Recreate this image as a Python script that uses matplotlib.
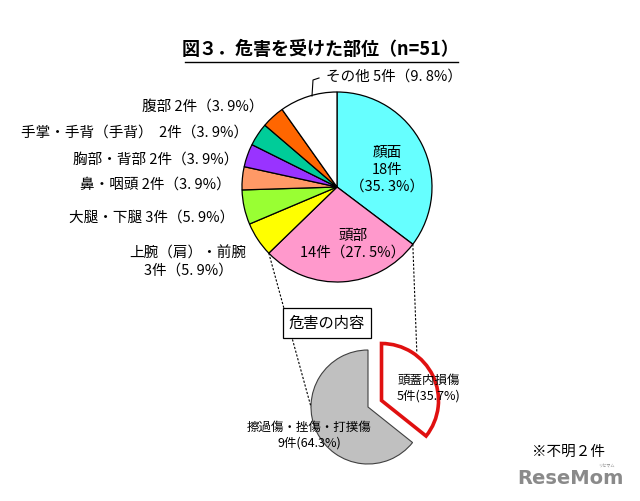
import matplotlib
matplotlib.use('Agg')
import matplotlib.pyplot as plt
import numpy as np

plt.rcParams['font.family'] = ['Noto Sans CJK JP', 'DejaVu Sans']

# 危害を受けた部位 (n=51), clockwise from the top
parts = ['顔面', '頭部', '上腕（肩）・前腕', '大腿・下腿', '鼻・咽頭',
         '胸部・背部', '手掌・手背（手背）', '腹部', 'その他']
counts = [18, 14, 3, 3, 2, 2, 2, 2, 5]
pcts = [35.3, 27.5, 5.9, 5.9, 3.9, 3.9, 3.9, 3.9, 9.8]
part_colors = ['#66ffff', '#ff99cc', '#ffff00', '#99ff33', '#ff9966',
               '#9933ff', '#00cc99', '#ff6600', '#ffffff']

# 危害の内容 (頭部 14件の内訳)
kinds = ['擦過傷・挫傷・打撲傷', '頭蓋内損傷']
kind_counts = [9, 5]
kind_pcts = [64.3, 35.7]

H = 501
fig = plt.figure(figsize=(6.4, 5.01), dpi=100)
ax = fig.add_axes([0, 0, 1, 1])

# top pie
c1 = (337, H - 187)
r1 = 95
ax.pie(counts, colors=part_colors, startangle=90, counterclock=False,
       center=c1, radius=r1, frame=True,
       wedgeprops=dict(edgecolor='black', linewidth=0.9))

# bottom pie, the 頭蓋内損傷 slice pulled out (explode is in data units here)
c2 = (368, H - 407)
r2 = 57
w2, _ = ax.pie(kind_counts, colors=['#c0c0c0', 'white'], startangle=90,
               counterclock=True, center=c2, radius=r2, frame=True,
               explode=[0, 15],
               wedgeprops=dict(edgecolor='#404040', linewidth=0.8))
w2[1].set_edgecolor('#e01010')
w2[1].set_linewidth(2.6)

ax.set_xlim(0, 640)
ax.set_ylim(0, H)
ax.set_aspect('auto')
ax.axis('off')

fs = 10.5

def pct(v):
    return ('%.1f' % v).replace('.', '. ')

# labels inside the big slices
ax.text(387, H - 170, '%s\n%d件\n（%s%%）' % (parts[0], counts[0], pct(pcts[0])),
        ha='center', va='center', fontsize=fs, linespacing=1.25)
ax.text(353, H - 244, '%s\n%d件（%s%%）' % (parts[1], counts[1], pct(pcts[1])),
        ha='center', va='center', fontsize=fs, linespacing=1.25)

# labels outside the small slices
outside = {
    2: (188, 262, 'center'),
    3: (234, 218, 'right'),
    4: (231, 185, 'right'),
    5: (238, 160, 'right'),
    6: (248, 133, 'right'),
    7: (264, 107, 'right'),
}
for i, (x, y, ha) in outside.items():
    if i == 2:
        s = '%s\n%d件（%s%%）' % (parts[i], counts[i], pct(pcts[i]))
    elif i == 6:
        s = '%s  %d件（%s%%）' % (parts[i], counts[i], pct(pcts[i]))
    else:
        s = '%s %d件（%s%%）' % (parts[i], counts[i], pct(pcts[i]))
    ax.text(x, H - y, s, ha=ha, va='center', fontsize=fs, linespacing=1.25)

ax.text(326, H - 77, '%s %d件（%s%%）' % (parts[8], counts[8], pct(pcts[8])),
        ha='left', va='center', fontsize=fs)
ax.plot([312, 313, 319], [H - 96, H - 80, H - 78], color='black', lw=0.8)

# title with underline
ax.text(321, H - 49, '図３．危害を受けた部位（n=51）', ha='center', va='center',
        fontsize=13, fontweight='bold')
ax.plot([185, 458], [H - 62, H - 62], color='black', lw=1)

# dotted connectors from 頭部 to the breakdown pie
tot = sum(counts)
a_left = np.radians(90 - 360 * (counts[0] + counts[1]) / tot)
a_right = np.radians(90 - 360 * counts[0] / tot)
p_left = (c1[0] + r1 * np.cos(a_left), c1[1] + r1 * np.sin(a_left))
p_right = (c1[0] + r1 * np.cos(a_right), c1[1] + r1 * np.sin(a_right))
ax.plot([p_left[0], c2[0] - r2], [p_left[1], c2[1]], color='black', lw=0.8,
        ls=(0, (2, 1.5)))
ax.plot([p_right[0], p_right[0] + 4], [p_right[1], H - 352], color='black',
        lw=0.8, ls=(0, (2, 1.5)))

# box label
ax.text(327, H - 323, '危害の内容', ha='center', va='center', fontsize=11,
        bbox=dict(boxstyle='square,pad=0.4', facecolor='white',
                  edgecolor='black', linewidth=0.9))

ax.text(429, H - 388, '%s\n%d件(%.1f%%)' % (kinds[1], kind_counts[1], kind_pcts[1]),
        ha='center', va='center', fontsize=9, linespacing=1.3)
ax.text(309, H - 435, '%s\n%d件(%.1f%%)' % (kinds[0], kind_counts[0], kind_pcts[0]),
        ha='center', va='center', fontsize=9, linespacing=1.3)

ax.text(568, H - 452, '※不明２件', ha='center', va='center', fontsize=10.5)

# watermark
ax.text(570, H - 479, 'ReseMom', ha='center', va='center', fontsize=14,
        fontweight='bold', color='#8a8a8a', family='DejaVu Sans')
ax.text(606, H - 466, 'リセマム', ha='center', va='center', fontsize=3,
        color='#8a8a8a')

fig.savefig('out.png', dpi=100)
